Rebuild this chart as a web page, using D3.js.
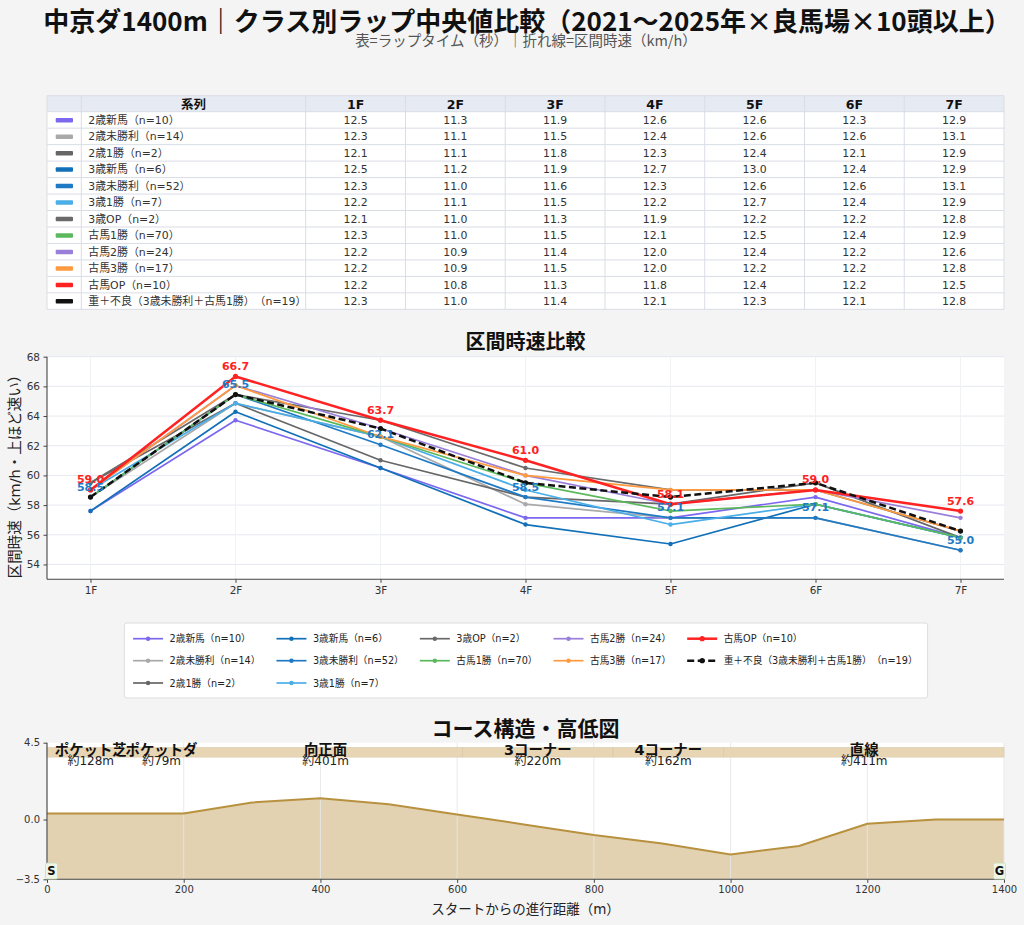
<!DOCTYPE html>
<html><head><meta charset="utf-8">
<script src="https://cdn.jsdelivr.net/npm/d3@7"></script>
<style>
body{margin:0;background:#f4f4f4;}
svg{display:block;}
svg text{text-spacing-trim:space-all;}
</style></head><body>
<svg id="c" width="1024" height="925"></svg>
<script>
// ---------------- DATA ----------------
const seriesNames = ["2歳新馬（n=10）","2歳未勝利（n=14）","2歳1勝（n=2）","3歳新馬（n=6）","3歳未勝利（n=52）","3歳1勝（n=7）","3歳OP（n=2）","古馬1勝（n=70）","古馬2勝（n=24）","古馬3勝（n=17）","古馬OP（n=10）","重＋不良（3歳未勝利＋古馬1勝）（n=19）"];
const sectionLabels = ["1F","2F","3F","4F","5F","6F","7F"];
const lapTimes = [
  [12.5,11.3,11.9,12.6,12.6,12.3,12.9],
  [12.3,11.1,11.5,12.4,12.6,12.6,13.1],
  [12.1,11.1,11.8,12.3,12.4,12.1,12.9],
  [12.5,11.2,11.9,12.7,13.0,12.4,12.9],
  [12.3,11.0,11.6,12.3,12.6,12.6,13.1],
  [12.2,11.1,11.5,12.2,12.7,12.4,12.9],
  [12.1,11.0,11.3,11.9,12.2,12.2,12.8],
  [12.3,11.0,11.5,12.1,12.5,12.4,12.9],
  [12.2,10.9,11.4,12.0,12.4,12.2,12.6],
  [12.2,10.9,11.5,12.0,12.2,12.2,12.8],
  [12.2,10.8,11.3,11.8,12.4,12.2,12.5],
  [12.3,11.0,11.4,12.1,12.3,12.1,12.8]
];
const speedKmh = [
  [57.60,63.72,60.50,57.14,57.14,58.54,55.81],
  [58.54,64.86,62.61,58.06,57.14,57.14,54.96],
  [59.50,64.86,61.02,58.54,58.06,59.50,55.81],
  [57.60,64.29,60.50,56.69,55.38,58.06,55.81],
  [58.54,65.45,62.07,58.54,57.14,57.14,54.96],
  [59.02,64.86,62.61,59.02,56.69,58.06,55.81],
  [59.50,65.45,63.72,60.50,59.02,59.02,56.25],
  [58.54,65.45,62.61,59.50,57.60,58.06,55.81],
  [59.02,66.06,63.16,60.00,58.06,59.02,57.14],
  [59.02,66.06,62.61,60.00,59.02,59.02,56.25],
  [59.02,66.67,63.72,61.02,58.06,59.02,57.60],
  [58.54,65.45,63.16,59.50,58.54,59.50,56.25]
];
const labeledSeries = [10, 4]; // 古馬OP, 3歳未勝利
const speedTicks = [54,56,58,60,62,64,66,68];
const courseDist = [0,100,200,300,400,500,600,700,800,900,1000,1100,1200,1300,1400];
const courseElev = [0.35,0.35,0.35,1.0,1.25,0.9,0.3,-0.3,-0.9,-1.4,-2.05,-1.55,-0.25,0.0,0.0];
const courseSections = ["ポケット芝","ポケットダ","向正面","3コーナー","4コーナー","直線"];
const sectionStart = [0,128,207,608,828,990];
const sectionEnd = [128,207,608,828,990,1401];
const sectionLength = ["約128m","約79m","約401m","約220m","約162m","約411m"];
const elevTicks = [4.5,0.0,-3.5];
const distTicks = [0,200,400,600,800,1000,1200,1400];

// ---------------- STYLE ----------------
const colors = ["#7b68ee","#a9a9a9","#666666","#1170b8","#1f7ac6","#4aaee8","#6a6a6a","#5cb85c","#9a7fda","#ff9a40","#ff2222","#111111"];
const FONT = '"DejaVu Sans","Noto Sans CJK JP",sans-serif';
const FONT_CJK = '"Noto Sans CJK JP","DejaVu Sans",sans-serif';

const svg = d3.select("#c").style("font-family", FONT);
svg.append("rect").attr("width",1024).attr("height",925).attr("fill","#f4f4f4");

// Titles
svg.append("text").attr("x",527).attr("y",19).attr("text-anchor","middle").attr("dominant-baseline","central")
  .style("font-family",FONT_CJK).style("font-weight","bold").style("font-size","26px").attr("fill","#111")
  .text("中京ダ1400m｜クラス別ラップ中央値比較（2021〜2025年×良馬場×10頭以上）");
svg.append("text").attr("x",526).attr("y",39.5).attr("text-anchor","middle").attr("dominant-baseline","central")
  .style("font-family",FONT_CJK).style("font-size","14.5px").attr("fill","#555")
  .text("表=ラップタイム（秒）｜折れ線=区間時速（km/h）");

// ---------------- TABLE ----------------
const tX0 = 47, tX1 = 1004, tY0 = 95.7, headH = 16, rowH = 16.47;
const swW = 34.3, nameW = 224.4;
const numW = (tX1 - tX0 - swW - nameW) / sectionLabels.length;
const colX = [tX0, tX0+swW, tX0+swW+nameW];
sectionLabels.forEach((_,i)=>colX.push(tX0+swW+nameW+numW*(i+1)));
const table = svg.append("g");
const tBottom = tY0 + headH + rowH*seriesNames.length;
table.append("rect").attr("x",tX0).attr("y",tY0).attr("width",tX1-tX0).attr("height",tBottom-tY0).attr("fill","#fff");
table.append("rect").attr("x",tX0).attr("y",tY0).attr("width",tX1-tX0).attr("height",headH).attr("fill","#e6eaf2");
for (let r=0;r<=seriesNames.length+1;r++){
  const y = r===0? tY0 : tY0+headH+rowH*(r-1);
  table.append("line").attr("x1",tX0).attr("x2",tX1).attr("y1",y).attr("y2",y).attr("stroke","#d9dde5").attr("stroke-width",1);
}
colX.forEach(x=>table.append("line").attr("x1",x).attr("x2",x).attr("y1",tY0).attr("y2",tBottom).attr("stroke","#d9dde5").attr("stroke-width",1));
const headers = ["", "系列"].concat(sectionLabels);
headers.forEach((h,i)=>{
  if(!h) return;
  table.append("text").attr("x",(colX[i]+colX[i+1])/2).attr("y",tY0+headH/2+0.5).attr("text-anchor","middle")
    .attr("dominant-baseline","central").style("font-weight","bold").style("font-size","12.5px").attr("fill","#111").text(h);
});
seriesNames.forEach((name,r)=>{
  const cy = tY0+headH+rowH*r+rowH/2+0.5;
  table.append("rect").attr("x",tX0+8.7).attr("y",cy-2.5).attr("width",17.3).attr("height",4.5).attr("rx",1).attr("fill",colors[r]);
  table.append("text").attr("x",colX[1]+7).attr("y",cy).attr("dominant-baseline","central")
    .style("font-size","10.9px").attr("fill","#333").text(name);
  lapTimes[r].forEach((v,c)=>{
    table.append("text").attr("x",(colX[c+2]+colX[c+3])/2).attr("y",cy).attr("text-anchor","middle")
      .attr("dominant-baseline","central").style("font-size","10.9px").attr("fill","#333").text(v.toFixed(1));
  });
});

// ---------------- LINE CHART ----------------
const L = {left:47,right:1004,top:356.7,bottom:579.3};
const x = d3.scaleLinear().domain([-0.3,6.3]).range([L.left,L.right]);
const y = d3.scaleLinear().domain([53,68]).range([L.bottom,L.top]);
const lc = svg.append("g");
lc.append("text").attr("x",525.5).attr("y",340).attr("text-anchor","middle").attr("dominant-baseline","central")
  .style("font-family",FONT_CJK).style("font-weight","bold").style("font-size","20px").attr("fill","#111").text("区間時速比較");
lc.append("rect").attr("x",L.left).attr("y",L.top).attr("width",L.right-L.left).attr("height",L.bottom-L.top).attr("fill","#fff");
lc.append("g").selectAll("line").data(speedTicks).join("line")
  .attr("x1",L.left).attr("x2",L.right).attr("y1",d=>y(d)).attr("y2",d=>y(d)).attr("stroke","#e2e5ee").attr("stroke-width",0.9);
lc.append("g").selectAll("line").data(sectionLabels).join("line")
  .attr("x1",(d,i)=>x(i)).attr("x2",(d,i)=>x(i)).attr("y1",L.top).attr("y2",L.bottom).attr("stroke","#eef0f5").attr("stroke-width",0.9);
const yAxis = d3.axisLeft(y).tickValues(speedTicks).tickSize(3.5).tickPadding(3.5).tickFormat(d3.format("d"));
const xAxis = d3.axisBottom(x).tickValues(d3.range(sectionLabels.length)).tickSize(3.5).tickPadding(4).tickFormat(i=>sectionLabels[i]);
const ya = lc.append("g").attr("transform",`translate(${L.left},0)`).call(yAxis);
const xa = lc.append("g").attr("transform",`translate(0,${L.bottom})`).call(xAxis);
[ya,xa].forEach(a=>{
  a.select(".domain").attr("stroke","#444").attr("stroke-width",1.1);
  a.selectAll(".tick line").attr("stroke","#444");
  a.selectAll(".tick text").style("font-family",FONT).style("font-size","10.5px").attr("fill","#333");
});
ya.select(".domain").attr("d",`M0,${L.top}V${L.bottom}`);
xa.select(".domain").attr("d",`M${L.left},0H${L.right}`);
lc.append("text").attr("transform",`translate(15,${(L.top+L.bottom)/2+5}) rotate(-90)`).attr("text-anchor","middle")
  .attr("dominant-baseline","central").style("font-size","14.5px").attr("fill","#222").text("区間時速（km/h・上ほど速い）");
const line = d3.line().x((d,i)=>x(i)).y(d=>y(d));
const isBold = i => i===10 || i===11;
speedKmh.forEach((vals,s)=>{
  const g = lc.append("g");
  g.append("path").datum(vals).attr("d",line).attr("fill","none").attr("stroke",colors[s])
    .attr("stroke-width", isBold(s)?2.5:1.7).attr("stroke-dasharray", s===11?"7,3.5":null).attr("stroke-linejoin","round");
  g.selectAll("circle").data(vals).join("circle").attr("cx",(d,i)=>x(i)).attr("cy",d=>y(d)).attr("r",isBold(s)?2.6:2.2).attr("fill",colors[s]);
});
labeledSeries.forEach(s=>{
  lc.append("g").selectAll("text").data(speedKmh[s]).join("text")
    .attr("x",(d,i)=>x(i)).attr("y",d=>y(d)-10).attr("text-anchor","middle").attr("dominant-baseline","central")
    .style("font-weight","bold").style("font-size","11px").attr("fill",colors[s]).text(d=>d.toFixed(1));
});

// ---------------- LEGEND ----------------
const lg = svg.append("g");
const lgRowY = [638.7,660.7,683], handleW = 30, textPad = 6.5, colGap = 16, lgFont = "9.7px";
const nCols = 5;
const perCol = d3.range(nCols).map(c => Math.floor(seriesNames.length/nCols) + (c < seriesNames.length % nCols ? 1 : 0));
const colStartIdx = perCol.map((n,c)=>d3.sum(perCol.slice(0,c)));
const tmp = svg.append("text").style("font-size",lgFont);
const widths = seriesNames.map(n=>{tmp.text(n); return tmp.node().getComputedTextLength();});
tmp.remove();
const colWidths = perCol.map((n,c)=>d3.max(d3.range(n).map(r=>widths[colStartIdx[c]+r])));
const totalW = d3.sum(colWidths.map(w=>handleW+textPad+w)) + colGap*(nCols-1);
const padL = 8.7, padR = 10;
const boxW = totalW + padL + padR;
const boxX = 526 - boxW/2;
lg.append("rect").attr("x",boxX).attr("y",623).attr("width",boxW).attr("height",75).attr("rx",2.5).attr("fill","#fff").attr("stroke","#dddddd");
let cx0 = boxX + padL;
for (let c=0;c<nCols;c++){
  for (let r=0;r<perCol[c];r++){
    const s = colStartIdx[c]+r;
    const yy = lgRowY[r];
    lg.append("line").attr("x1",cx0).attr("x2",cx0+handleW).attr("y1",yy).attr("y2",yy).attr("stroke",colors[s])
      .attr("stroke-width",isBold(s)?2.5:1.7).attr("stroke-dasharray",s===11?"7,3.5":null);
    lg.append("circle").attr("cx",cx0+handleW/2).attr("cy",yy).attr("r",isBold(s)?2.6:2.2).attr("fill",colors[s]);
    lg.append("text").attr("x",cx0+handleW+textPad).attr("y",yy).attr("dominant-baseline","central")
      .style("font-size",lgFont).attr("fill","#222").text(seriesNames[s]);
  }
  cx0 += handleW+textPad+colWidths[c]+colGap;
}

// ---------------- COURSE ----------------
const C = {left:47,right:1004,top:742.7,bottom:879.3};
const xc = d3.scaleLinear().domain([0,1400]).range([C.left,C.right]);
const yc = d3.scaleLinear().domain([-3.5,4.5]).range([C.bottom,C.top]);
const cg = svg.append("g");
cg.append("text").attr("x",525.5).attr("y",726.5).attr("text-anchor","middle").attr("dominant-baseline","central")
  .style("font-family",FONT_CJK).style("font-weight","bold").style("font-size","21px").attr("fill","#111").text("コース構造・高低図");
cg.append("rect").attr("x",C.left).attr("y",C.top).attr("width",C.right-C.left).attr("height",C.bottom-C.top).attr("fill","#fff");
const area = d3.area().x((d,i)=>xc(courseDist[i])).y0(yc(-3.5)).y1(d=>yc(d));
cg.append("path").datum(courseElev).attr("d",area).attr("fill","#e2d2b2");
cg.append("g").selectAll("line").data(distTicks).join("line").attr("x1",d=>xc(d)).attr("x2",d=>xc(d))
  .attr("y1",C.top).attr("y2",C.bottom).attr("stroke","#e6e6e6").attr("stroke-width",0.9);
cg.append("path").datum(courseElev).attr("d",d3.line().x((d,i)=>xc(courseDist[i])).y(d=>yc(d)))
  .attr("fill","none").attr("stroke","#b8913f").attr("stroke-width",2);
const bandTop = C.top+4.8, bandH = 9.6;
courseSections.forEach((nm,i)=>{
  const x0 = xc(sectionStart[i]), x1 = Math.min(xc(sectionEnd[i]), C.right);
  cg.append("rect").attr("x",x0).attr("y",bandTop).attr("width",x1-x0).attr("height",bandH)
    .attr("fill","#e8d5b3").attr("stroke","#d8c8aa").attr("stroke-width",0.6);
});
courseSections.forEach((nm,i)=>{
  const mid = xc((sectionStart[i]+sectionEnd[i])/2);
  cg.append("text").attr("x",mid).attr("y",750).attr("text-anchor","middle").attr("dominant-baseline","central")
    .style("font-weight","bold").style("font-size","14.4px").attr("fill","#111").text(nm);
  cg.append("text").attr("x",mid).attr("y",761).attr("text-anchor","middle").attr("dominant-baseline","central")
    .style("font-size","12px").attr("fill","#222").text(sectionLength[i]);
});
const yaC = cg.append("g").attr("transform",`translate(${C.left},0)`).call(d3.axisLeft(yc).tickValues(elevTicks).tickSize(3.5).tickPadding(3.5).tickFormat(d3.format(".1f")));
const xaC = cg.append("g").attr("transform",`translate(0,${C.bottom})`).call(d3.axisBottom(xc).tickValues(distTicks).tickSize(3.5).tickPadding(3).tickFormat(d3.format("d")));
[yaC,xaC].forEach(a=>{
  a.select(".domain").attr("stroke","#444").attr("stroke-width",1.1);
  a.selectAll(".tick line").attr("stroke","#444");
  a.selectAll(".tick text").style("font-family",FONT).style("font-size","10px").attr("fill","#333");
});
yaC.select(".domain").attr("d",`M0,${C.top}V${C.bottom}`);
xaC.select(".domain").attr("d",`M${C.left},0H${C.right}`);
cg.append("text").attr("x",525.5).attr("y",909).attr("text-anchor","middle").attr("dominant-baseline","central")
  .style("font-size","13.5px").attr("fill","#222").text("スタートからの進行距離（m）");
[["S",0],["G",1400]].forEach(([t,d])=>{
  const cxm = d===0 ? xc(d)+4.5 : xc(d)-4.5;
  cg.append("rect").attr("x",cxm-6).attr("y",863).attr("width",12).attr("height",16).attr("rx",1.5)
    .attr("fill","#eef6e8").attr("stroke","#c8dcb8").attr("stroke-width",0.8);
  cg.append("text").attr("x",cxm).attr("y",871).attr("text-anchor","middle").attr("dominant-baseline","central")
    .style("font-weight","bold").style("font-size","11.5px").attr("fill","#111").text(t);
});
</script>
</body></html>
